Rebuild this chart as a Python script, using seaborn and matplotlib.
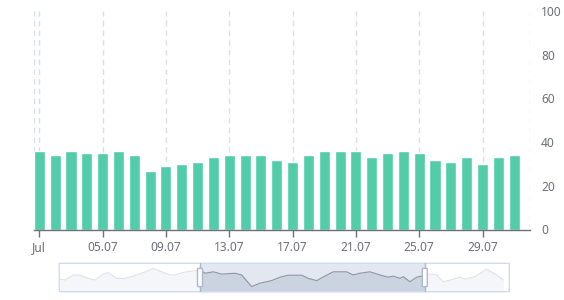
import matplotlib
matplotlib.use('Agg')
import matplotlib.pyplot as plt
import seaborn as sns
import pandas as pd
from matplotlib.patches import FancyBboxPatch, Rectangle

# ---- data ----
days = list(range(1, 32))
values = [36, 34, 36, 35, 35, 36, 34, 27, 29, 30, 31, 33, 34, 34, 34, 32,
          31, 34, 36, 36, 36, 33, 35, 36, 35, 32, 31, 33, 30, 33, 34]
tick_days = [1, 5, 9, 13, 17, 21, 25, 29]
tick_labels = ['Jul', '05.07', '09.07', '13.07', '17.07', '21.07', '25.07', '29.07']
y_ticks = [0, 20, 40, 60, 80, 100]

# data-zoom shadow (relative values) and selected window
shadow_day = [1.0, 1.34, 1.9, 2.35, 2.91, 3.36, 3.92, 4.26, 4.82, 5.38, 5.94, 6.61,
              7.29, 7.85, 8.42, 8.75, 9.31, 10.1, 10.57, 10.78, 11.34, 11.9, 12.8,
              13.25, 13.92, 14.49, 15.27, 15.83, 16.39, 17.3, 17.74, 18.31, 18.87,
              19.43, 20.33, 20.76, 21.23, 21.9, 22.58, 23.14, 23.47, 23.93, 24.15,
              24.6, 25.05, 25.39, 25.95, 26.4, 26.85, 27.52, 27.97, 28.31, 28.98,
              29.77, 30.45, 30.9]
shadow_val = [45, 41, 59, 58, 47, 41, 62, 67, 47, 47, 55, 67,
              82, 70, 59, 59, 68, 74, 73, 65, 70, 62, 65,
              59, 18, 30, 39, 51, 58, 58, 47, 39, 55,
              70, 70, 59, 65, 70, 59, 51, 55, 47, 53,
              35, 51, 55, 62, 59, 35, 44, 51, 44, 53,
              79, 59, 41]
zoom_start, zoom_end = 10.44, 25.6

# ---- style ----
sns.set_theme(style='white')
plt.rcParams['font.family'] = ['Noto Sans', 'DejaVu Sans']
TXT = '#6E7079'

fig = plt.figure(figsize=(5.64, 3.0), dpi=100)
ax = fig.add_axes([34.3 / 564, 1 - 229.5 / 300, (530 - 34.3) / 564, (229.5 - 11) / 300])

df = pd.DataFrame({'day': days, 'value': values})
sns.barplot(data=df, x='day', y='value', native_scale=True, width=0.7,
            color='#52CCA9', saturation=1, errorbar=None, ax=ax, zorder=2)

x0, x1 = 0.684, 32.0
ax.set_xlim(x0, x1)
ax.set_ylim(0, 100)

for d in tick_days + [x0, x1]:
    ax.axvline(d, color='#D9DFEA', lw=1, ls=(0, (4, 3)), zorder=0)

ax.tick_params(axis='x', direction='out', length=5, width=1, color=TXT, pad=3,
               bottom=True)
ax.yaxis.tick_right()
ax.tick_params(axis='y', length=0, pad=8, labelcolor=TXT, labelsize=8.6, right=False)

ax.set_xticks(tick_days)
ax.set_xticklabels(tick_labels, fontsize=8.6, color=TXT, fontweight='bold')
ax.get_xticklabels()[0].set_fontweight('normal')

ax.set_yticks(y_ticks)
ax.set_yticklabels([str(v) for v in y_ticks], ha='left')

ax.set_xlabel('')
ax.set_ylabel('')
for s in ['top', 'left', 'right']:
    ax.spines[s].set_visible(False)
ax.spines['bottom'].set_color(TXT)
ax.spines['bottom'].set_linewidth(1)
ax.spines['bottom'].set_zorder(3)

# ---- data zoom slider ----
ax2 = fig.add_axes([59.3 / 564, 1 - 291.7 / 300, 450 / 564, 28.4 / 300])
ax2.set_xlim(0.953, 31.30)
ax2.set_ylim(0, 100)
ax2.axis('off')

ax2.axvspan(zoom_start, zoom_end, color='#E3E7F0', lw=0, zorder=0)
ax2.fill_between(shadow_day, 0, shadow_val, color='#F4F6FA', lw=0, zorder=1)
ax2.plot(shadow_day, shadow_val, color='#DDE2EB', lw=0.8, zorder=2)
clip = Rectangle((zoom_start, 0), zoom_end - zoom_start, 100, transform=ax2.transData)
f2 = ax2.fill_between(shadow_day, 0, shadow_val, color='#CBD2E0', lw=0, zorder=3)
l2, = ax2.plot(shadow_day, shadow_val, color='#8E96A6', lw=0.8, zorder=4)
f2.set_clip_path(clip)
l2.set_clip_path(clip)

border = FancyBboxPatch((0, 0), 1, 1, boxstyle='round,pad=0,rounding_size=0.006',
                        transform=ax2.transAxes, fill=False, ec='#D2DBEE', lw=1,
                        clip_on=False, zorder=5)
ax2.add_patch(border)

hw = 5 / 14.83
for d in (zoom_start, zoom_end):
    ax2.axvline(d, color='#ACB8D1', lw=1, zorder=6)
    h = FancyBboxPatch((d - hw / 2, 17.6), hw, 64.8,
                       boxstyle='round,pad=0,rounding_size=0.12',
                       mutation_aspect=20, fc='white', ec='#ACB8D1', lw=1,
                       zorder=7, clip_on=False)
    ax2.add_patch(h)

fig.savefig('out.png', dpi=100)
